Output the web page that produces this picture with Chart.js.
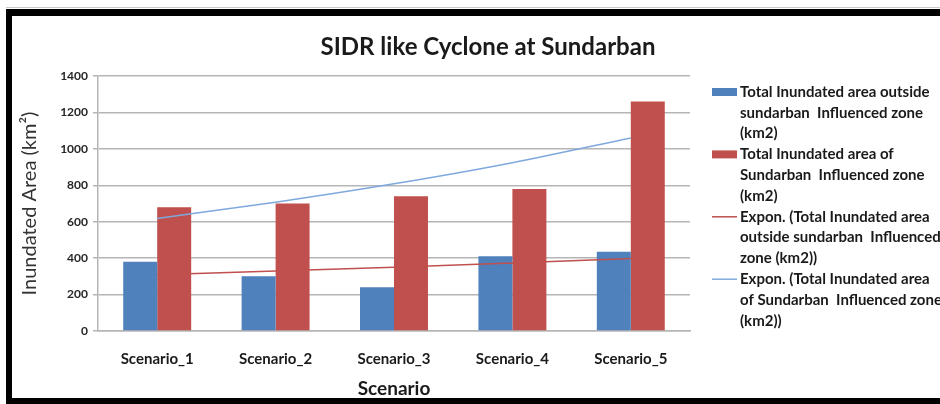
<!DOCTYPE html>
<html>
<head>
<meta charset="utf-8">
<script src="https://cdn.jsdelivr.net/npm/chart.js@4.4.1/dist/chart.umd.min.js"></script>
<style>
  html, body { margin: 0; padding: 0; background: #fff; }
  #wrap { width: 940px; height: 404px; position: relative; }
</style>
</head>
<body>
<div id="wrap"><canvas id="sidrChart"></canvas></div>
<script>
"use strict";

// data
const categories = ["Scenario_1", "Scenario_2", "Scenario_3", "Scenario_4", "Scenario_5"];
const outsideArea = [380, 300, 240, 410, 435];      // blue bars (km2)
const sundarbanArea = [680, 700, 740, 780, 1260];   // red bars (km2)
const outsideTrend = [310, 329, 350, 373, 398];     // Expon. trend of blue bars
const sundarbanTrend = [618, 707, 808, 924, 1060];  // Expon. trend of red bars
const yMin = 0;
const yMax = 1400;
const yStep = 200;

// legend text, broken the same way as the picture
const legendLines = [
    ["Total Inundated area outside", "sundarban  Influenced zone", "(km2)"],
    ["Total Inundated area of", "Sundarban  Influenced zone", "(km2)"],
    ["Expon. (Total Inundated area", "outside sundarban  Influenced", "zone (km2))"],
    ["Expon. (Total Inundated area", "of Sundarban  Influenced zone", "(km2))"]
];

const FONT = "Lato, 'Liberation Sans', sans-serif";
Chart.defaults.font.family = FONT;

// white background + black frame
const framePlugin = {
    id: "frame",
    beforeDraw(chart) {
        const c = chart.ctx;
        c.save();
        c.fillStyle = "#fff";
        c.fillRect(0, 0, chart.width, chart.height);
        c.fillStyle = "#c8c8c8";
        c.fillRect(6, 7, chart.width, 1);
        c.fillStyle = "#000";
        c.fillRect(6, 9, chart.width, 7);
        c.fillRect(6, 9, 6, chart.height);
        c.fillRect(6, 398, chart.width, 6);
        c.restore();
    }
};

// chart title
const titlePlugin = {
    id: "bigTitle",
    afterDraw(chart) {
        const c = chart.ctx;
        c.save();
        c.font = "bold 24px " + FONT;
        c.fillStyle = "#1a1a1a";
        c.textAlign = "center";
        c.textBaseline = "middle";
        c.fillText("SIDR like Cyclone at Sundarban", 488, 47);
        c.restore();
    }
};

// multi-line legend on the right
const legendPlugin = {
    id: "sideLegend",
    afterDraw(chart) {
        const c = chart.ctx;
        const lineH = 20.8;
        let y = 92;
        c.save();
        c.font = "bold 15px " + FONT;
        c.textAlign = "left";
        c.textBaseline = "middle";
        chart.data.datasets.forEach((ds, i) => {
            if (ds.type === "line") {
                c.strokeStyle = ds.borderColor;
                c.lineWidth = 1.5;
                c.beginPath();
                c.moveTo(712, y);
                c.lineTo(737, y);
                c.stroke();
            } else {
                c.fillStyle = ds.backgroundColor;
                c.fillRect(712, y - 4, 25, 8);
            }
            c.fillStyle = "#1a1a1a";
            legendLines[i].forEach((t, k) => {
                c.fillText(t, 740, y + k * lineH);
            });
            y += legendLines[i].length * lineH;
        });
        c.restore();
    }
};

const ctx = document.getElementById("sidrChart").getContext("2d");
const sidrChart = new Chart(ctx, {
    type: "bar",
    data: {
        labels: categories,
        datasets: [
            {
                label: legendLines[0].join(" "),
                data: outsideArea,
                backgroundColor: "#4f81bd",
                categoryPercentage: 0.574,
                barPercentage: 1.0,
                order: 2
            },
            {
                label: legendLines[1].join(" "),
                data: sundarbanArea,
                backgroundColor: "#c0504d",
                categoryPercentage: 0.574,
                barPercentage: 1.0,
                order: 2
            },
            {
                type: "line",
                label: legendLines[2].join(" "),
                data: outsideTrend,
                borderColor: "#c0504d",
                borderWidth: 1.5,
                pointRadius: 0,
                cubicInterpolationMode: "monotone",
                order: 1
            },
            {
                type: "line",
                label: legendLines[3].join(" "),
                data: sundarbanTrend,
                borderColor: "#7fa9de",
                borderWidth: 1.5,
                pointRadius: 0,
                cubicInterpolationMode: "monotone",
                order: 1
            }
        ]
    },
    options: {
        responsive: true,
        maintainAspectRatio: false,
        animation: false,
        layout: { padding: { left: 12, top: 76, right: 250, bottom: 6 } },
        plugins: {
            legend: { display: false },
            title: { display: false },
            tooltip: { enabled: false }
        },
        scales: {
            x: {
                afterFit: (s) => { s.height = 67; },
                grid: { display: false, drawTicks: false },
                border: { display: true, color: "#b5b5b5", width: 1.5 },
                ticks: { color: "#1a1a1a", font: { size: 15, weight: "bold" }, padding: 19 },
                title: {
                    display: true,
                    text: "Scenario",
                    color: "#1a1a1a",
                    font: { size: 19, weight: "bold" },
                    padding: { top: 0, bottom: -2 }
                }
            },
            y: {
                min: yMin,
                max: yMax,
                afterFit: (s) => { s.width = 86; },
                grid: { color: "#b5b5b5", lineWidth: 1.5, tickLength: 5 },
                border: { display: true, color: "#b5b5b5", width: 1.5 },
                ticks: {
                    stepSize: yStep,
                    color: "#262626",
                    font: { size: 12, weight: "bold" },
                    padding: 5,
                    callback: (v) => String(v)
                },
                title: {
                    display: true,
                    text: "Inundated Area (km²)",
                    color: "#333",
                    font: { size: 20 },
                    padding: { top: 6, bottom: 0 }
                }
            }
        }
    },
    plugins: [framePlugin, titlePlugin, legendPlugin]
});
</script>
</body>
</html>
